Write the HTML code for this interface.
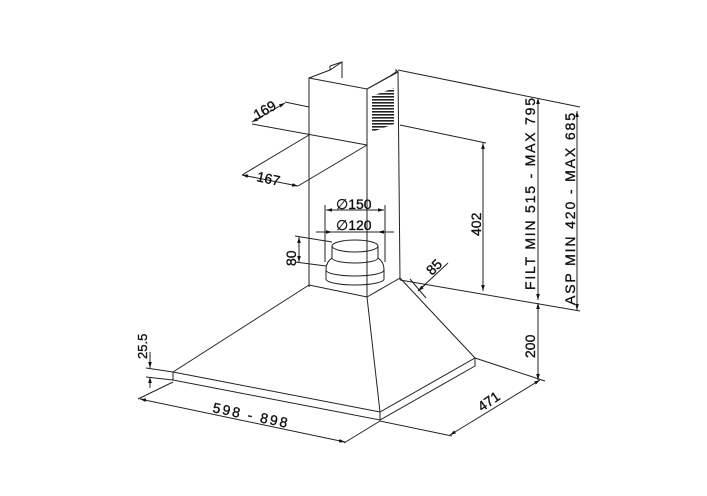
<!DOCTYPE html>
<html><head><meta charset="utf-8"><style>
html,body{margin:0;padding:0;background:#fff;}
svg{display:block;}
text{font-family:"Liberation Sans",sans-serif;font-size:14px;fill:#111;stroke:#111;stroke-width:0.35;}
</style></head><body>
<svg width="707" height="496" viewBox="0 0 707 496" xmlns="http://www.w3.org/2000/svg">
<defs>
<marker id="a" viewBox="0 0 10 10" refX="10" refY="5" markerWidth="6" markerHeight="6" orient="auto-start-reverse"><path d="M0,2 L10,5 L0,8z" fill="#111"/></marker>
<pattern id="g" width="4" height="3" patternUnits="userSpaceOnUse"><rect width="4" height="1.6" fill="#222"/></pattern>
</defs>
<g stroke="#222" stroke-width="1" fill="none">
<polyline points="309,287 309,78 367,89 398,72 400,280"/>
<line x1="367" y1="89" x2="367" y2="297"/>
<polyline points="309,78 330,70 342,62 342,78"/>
<polyline points="330,70 330,66 342,62"/>
<polyline points="367,89 390,76 396,72 396,70 398,72"/>
<polygon points="372,96 394,88 394,124 372,132" fill="url(#g)" stroke="none"/>
<line x1="398" y1="70" x2="580" y2="107"/>
<line x1="400" y1="125" x2="486" y2="143"/>
<line x1="400" y1="280" x2="580" y2="311"/>
<polyline points="309,285 367,297 400,278"/>
<line x1="309" y1="285" x2="173" y2="372"/>
<line x1="367" y1="297" x2="380" y2="412"/>
<line x1="400" y1="278" x2="475" y2="358"/>
<polygon points="173,372 380,412 475,358 475,366 380,420 173,380"/>
<line x1="380" y1="412" x2="380" y2="420"/>
<ellipse cx="355" cy="246" rx="23" ry="6"/>
<line x1="332" y1="246" x2="332" y2="258"/>
<line x1="378" y1="246" x2="378" y2="258"/>
<path d="M332,258 Q326,262 326,270 L326,279 A29,6 0 0 0 384,279 L384,270 Q384,262 378,258"/>
<path d="M332,258 A23,5 0 0 0 378,258"/>
<path d="M326,270 A29,6 0 0 0 384,270"/>
<line x1="285" y1="102" x2="309" y2="107"/>
<line x1="252" y1="124" x2="367" y2="145"/>
<line x1="242" y1="175" x2="309" y2="135"/>
<line x1="298" y1="186" x2="367" y2="145"/>
<line x1="325" y1="205" x2="325" y2="262"/>
<line x1="385" y1="205" x2="385" y2="262"/>
<line x1="295" y1="236" x2="332" y2="242"/>
<line x1="295" y1="262" x2="326" y2="266"/>
<line x1="146" y1="368" x2="173" y2="372"/>
<line x1="146" y1="377" x2="173" y2="380"/>
<line x1="173" y1="382" x2="138" y2="399"/>
<line x1="380" y1="421" x2="344" y2="443"/>
<line x1="380" y1="421" x2="452" y2="436"/>
<line x1="475" y1="358" x2="545" y2="381"/>
<line x1="410" y1="279" x2="426" y2="298"/>
<line x1="252" y1="122" x2="285" y2="103" marker-start="url(#a)" marker-end="url(#a)"/>
<line x1="242" y1="175" x2="298" y2="186" marker-start="url(#a)" marker-end="url(#a)"/>
<line x1="326" y1="210" x2="384" y2="210" marker-start="url(#a)" marker-end="url(#a)"/>
<line x1="316" y1="232" x2="332" y2="232" marker-end="url(#a)"/>
<line x1="394" y1="232" x2="378" y2="232" marker-end="url(#a)"/>
<line x1="332" y1="232" x2="378" y2="232"/>
<line x1="299" y1="237" x2="299" y2="262" marker-start="url(#a)" marker-end="url(#a)"/>
<line x1="483" y1="143" x2="483" y2="291" marker-start="url(#a)" marker-end="url(#a)"/>
<line x1="538" y1="98" x2="538" y2="300" marker-start="url(#a)" marker-end="url(#a)"/>
<line x1="538" y1="303" x2="538" y2="380" marker-start="url(#a)" marker-end="url(#a)"/>
<line x1="577" y1="111" x2="577" y2="310" marker-start="url(#a)" marker-end="url(#a)"/>
<line x1="150" y1="352" x2="150" y2="368" marker-end="url(#a)"/>
<line x1="150" y1="388" x2="150" y2="377" marker-end="url(#a)"/>
<line x1="140" y1="399" x2="345" y2="442" marker-start="url(#a)" marker-end="url(#a)"/>
<line x1="450" y1="435" x2="540" y2="380" marker-start="url(#a)" marker-end="url(#a)"/>
<line x1="418" y1="291" x2="448" y2="263"/>
<line x1="426" y1="284" x2="418" y2="291" marker-end="url(#a)"/>
</g>
<text transform="translate(257,120) rotate(-30)">169</text>
<text transform="translate(256,181) rotate(12)">167</text>
<text x="336" y="209">∅150</text>
<text x="336" y="230">∅120</text>
<text transform="translate(296,266) rotate(-90)">80</text>
<text transform="translate(481,236) rotate(-90)">402</text>
<text transform="translate(432,276) rotate(-45)">85</text>
<text transform="translate(535,290) rotate(-90)" textLength="192" lengthAdjust="spacing">FILT MIN 515 - MAX 795</text>
<text transform="translate(575,305) rotate(-90)" textLength="192" lengthAdjust="spacing">ASP MIN 420 - MAX 685</text>
<text transform="translate(535,358) rotate(-90)">200</text>
<text transform="translate(147,359) rotate(-90)" style="font-size:13px">25.5</text>
<text transform="translate(212,412) rotate(12)" textLength="76" lengthAdjust="spacing">598 - 898</text>
<text transform="translate(482,412) rotate(-35)">471</text>
</svg>
</body></html>
